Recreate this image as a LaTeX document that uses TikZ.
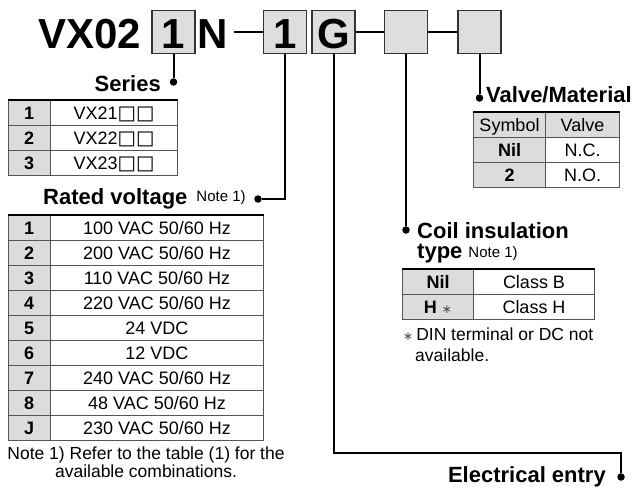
\documentclass[tikz,border=0pt]{standalone}
\usepackage{fontspec}
\setmainfont{Liberation Sans}
\newfontfamily\symfont{DejaVu Sans}
\definecolor{cellgray}{HTML}{DCDCDC}
\definecolor{boxgray}{HTML}{DEDEDE}
\definecolor{rulegray}{HTML}{555555}
\newcommand\fsz[1]{\fontsize{#1}{#1}\selectfont}
\newcommand\sq{{\symfont\fsz{19.5}□}}
\tikzset{
  codebox/.style={draw=black!80, line width=1.5pt, fill=boxgray, minimum width=43pt, minimum height=43pt,
    inner sep=0pt, font=\fsz{42}\bfseries, text height=32.5pt, text depth=0pt},
  titletext/.style={inner sep=0pt, font=\fsz{42}\bfseries},
  wire/.style={line width=2pt},
  dot/.style={circle, fill=black, inner sep=0pt, minimum size=7.5pt},
  head/.style={inner sep=0pt, font=\fsz{22}\bfseries},
  plain/.style={inner sep=0pt, font=\fsz{17.5}},
  cell/.style={draw=rulegray, line width=1pt, minimum height=25pt, inner sep=0pt, anchor=north west,
    text height=12.9pt, text depth=0pt},
  valcell/.style={cell, font=\fsz{18}},
  keycell/.style={cell, fill=cellgray, font=\fsz{18}\bfseries},
  headcell/.style={cell, fill=cellgray, font=\fsz{18}},
  topline/.style={line width=2pt, draw=black},
}
\begin{document}
\begin{tikzpicture}[x=1pt,y=-1pt]
\useasboundingbox[fill=white] (0,0) rectangle (639,488);

% title code
\node[titletext, anchor=base west] (vx) at (38,48) {VX02};
\node[codebox] (b1) at (173.5,31.75) {1};
\node[titletext, anchor=base west] (N) at (197,48) {N};
\node[codebox] (b2) at (285,31.75) {1};
\node[codebox] (bG) at (333.5,31.75) {G};
\node[codebox] (b3) at (406,31.75) {};
\node[codebox] (b4) at (479.5,31.75) {};
\draw[wire] ([xshift=6pt]N.east |- b2.west) -- (b2.west);
\draw[wire] (bG.east) -- (b3.west);
\draw[wire] (b3.east) -- (b4.west);

% dots and headings
\node[dot] (d1) at (173.5,82) {};
\node[head, anchor=base east] (hser) at (161,91) {Series};
\node[dot] (d2) at (258,199) {};
\node[head, anchor=base west] (hrat) at (43,204) {Rated voltage\hspace{9pt}{\fsz{15}\mdseries\raisebox{3pt}{Note 1)}}};
\node[dot] (d4) at (479.5,98) {};
\node[head, anchor=base west] (hval) at (486,102) {Valve/Material};
\node[dot] (d3) at (406,230) {};
\node[head, anchor=base west] (hcoil) at (417,238) {Coil insulation};
\node[head, anchor=base west] (htype) at (417,258) {type\hspace{6pt}{\fsz{15}\mdseries\raisebox{1pt}{Note 1)}}};
\coordinate (e1) at (621,453);
\node[dot] (d5) at (621,477) {};
\node[head, anchor=base east] (helec) at (606,482) {Electrical entry};

\draw[wire] (b1.south) -- (d1);
\draw[wire] (b2.south) |- (d2);
\draw[wire] (bG.south) |- (e1) -- (d5);
\draw[wire] (b3.south) -- (d3);
\draw[wire] (b4.south) -- (d4);

% Series table
\foreach \k/\v [count=\i from 0] in {1/{VX21\sq\sq},2/{VX22\sq\sq},3/{VX23\sq\sq}}{
  \node[keycell, minimum width=42.5pt] (sk\i) at (7.5,{100+25*\i}) {\k};
  \node[valcell, minimum width=127pt] (sv\i) at (50,{100+25*\i}) {\v};
}
\draw[topline] (sk0.north west) -- (sv0.north east);

% Rated voltage table
\foreach \k/\v [count=\i from 0] in {1/{100 VAC 50/60 Hz},2/{200 VAC 50/60 Hz},3/{110 VAC 50/60 Hz},
  4/{220 VAC 50/60 Hz},5/{24 VDC},6/{12 VDC},7/{240 VAC 50/60 Hz},8/{48 VAC 50/60 Hz},J/{230 VAC 50/60 Hz}}{
  \node[keycell, minimum width=42.5pt] (rk\i) at (7.5,{215+25*\i}) {\k};
  \node[valcell, minimum width=213pt] (rv\i) at (50,{215+25*\i}) {\v};
}
\draw[topline] (rk0.north west) -- (rv0.north east);
\node[plain, align=center, anchor=base] (note) at (146,477)
  {Note 1) Refer to the table (1) for the\\available combinations.};

% Valve/Material table
\node[headcell, minimum width=72pt] (vh1) at (473,112) {Symbol};
\node[headcell, minimum width=74pt] (vh2) at (545,112) {Valve};
\node[keycell, minimum width=72pt] (vk1) at (473,137) {Nil};
\node[valcell, minimum width=74pt] (vv1) at (545,137) {N.C.};
\node[keycell, minimum width=72pt] (vk2) at (473,162) {2};
\node[valcell, minimum width=74pt] (vv2) at (545,162) {N.O.};
\draw[topline] (vh1.north west) -- (vh2.north east);

% Coil insulation table
\node[keycell, minimum width=71pt] (ck1) at (402,269) {Nil};
\node[valcell, minimum width=121pt] (cv1) at (473,269) {Class B};
\node[keycell, minimum width=71pt] (ck2) at (402,294) {H {\symfont\mdseries\fsz{12}\color{black!70}∗}};
\node[valcell, minimum width=121pt] (cv2) at (473,294) {Class H};
\draw[topline] (ck1.north west) -- (cv1.north east);
\node[plain, anchor=base west] (fn1) at (403,340) {{\symfont\fsz{12}\color{black!70}∗}\hspace{3pt}DIN terminal or DC not};
\node[plain, anchor=base west] (fn2) at (415,361) {available.};
\end{tikzpicture}
\end{document}
